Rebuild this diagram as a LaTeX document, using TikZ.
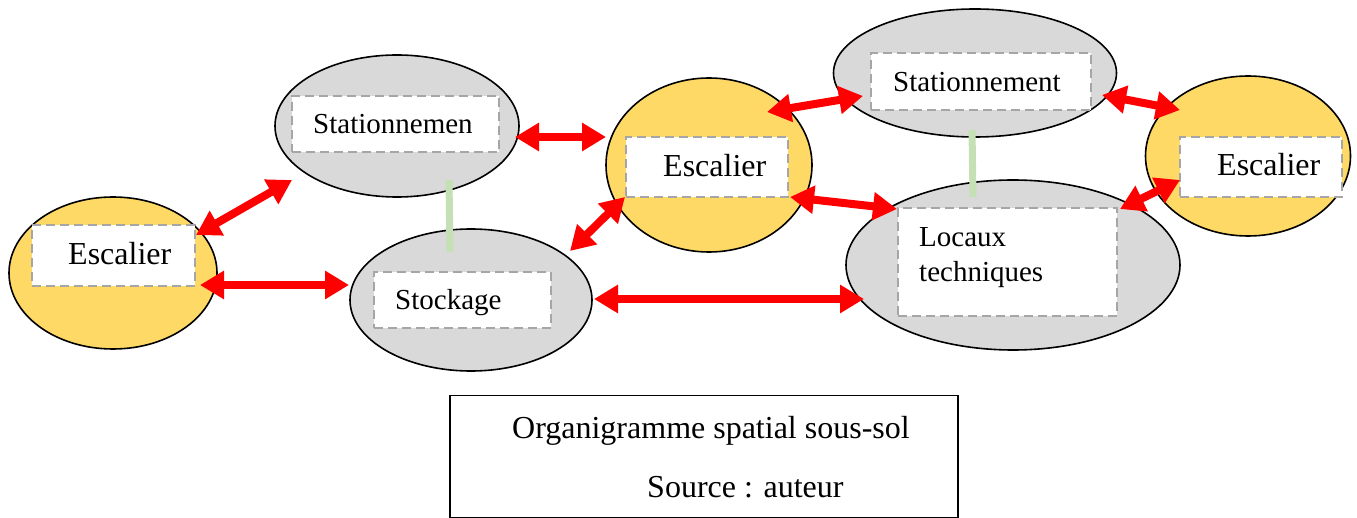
\documentclass[tikz,border=0pt]{standalone}
\usepackage{fontspec}
\setmainfont{Liberation Serif}
\newfontfamily\tnr{Liberation Serif}
\usetikzlibrary{shapes.geometric,arrows.meta}
\definecolor{ygold}{HTML}{FFD966}
\definecolor{lgray}{HTML}{D9D9D9}
\definecolor{dgray}{HTML}{A6A6A6}
\definecolor{lgreen}{HTML}{C5E0B4}
\tikzset{
  ell/.style={draw=black, line width=1.6pt, ellipse, inner sep=0pt},
  yell/.style={ell, fill=ygold},
  gell/.style={ell, fill=lgray},
  dbox/.style={draw=dgray, fill=white, line width=2.4pt, dash pattern=on 9pt off 5pt, rectangle, inner sep=0pt},
  lbl/.style={font=\tnr\fontsize{29}{35}\selectfont, inner sep=0pt, anchor=base west},
  blbl/.style={font=\tnr\fontsize{32}{38}\selectfont, inner sep=0pt, anchor=base west},
  biarrow/.style={draw=red, line width=8pt, {Triangle[length=24pt,width=27pt]}-{Triangle[length=24pt,width=27pt]}},
  greenlink/.style={draw=lgreen, line width=7pt},
}
\begin{document}
\begin{tikzpicture}[x=1pt, y=-1pt]
\useasboundingbox (0,0) rectangle (1357,518);
% ellipses
\node[yell, minimum width=208pt, minimum height=152pt] (esc1) at (113,273) {};
\node[gell, minimum width=244pt, minimum height=142pt] (st1) at (397,126) {};
\node[gell, minimum width=242pt, minimum height=142pt] (stk) at (471,300) {};
\node[yell, minimum width=206pt, minimum height=174pt] (esc2) at (709,165) {};
\node[gell, minimum width=283pt, minimum height=128pt] (st2) at (975,73) {};
\node[gell, minimum width=334pt, minimum height=170pt] (loc) at (1013,265) {};
\node[yell, minimum width=205pt, minimum height=160pt] (esc3) at (1248,156) {};
% green links
\coordinate (g1a) at (449,180);
\coordinate (g1b) at (450,252);
\draw[greenlink] (g1a) -- (g1b);
\coordinate (g2a) at (972,130);
\coordinate (g2b) at (973,197);
\draw[greenlink] (g2a) -- (g2b);
% dashed boxes
\node[dbox, minimum width=163pt, minimum height=61pt] (b1) at (113.5,255.5) {};
\node[dbox, minimum width=207pt, minimum height=56pt] (b2) at (395.5,124) {};
\node[dbox, minimum width=177pt, minimum height=56pt] (b3) at (462.5,300) {};
\node[dbox, minimum width=162pt, minimum height=60pt] (b4) at (707,167) {};
\node[dbox, minimum width=220pt, minimum height=57pt] (b5) at (981,81.5) {};
\node[dbox, minimum width=219pt, minimum height=108pt] (b6) at (1007.5,262) {};
\node[dbox, minimum width=162pt, minimum height=60pt] (b7) at (1261,167) {};
% labels
\node[blbl] (t1) at (68,265) {Escalier};
\node[lbl] (t2) at (313,134) {Stationnemen};
\node[lbl] (t3) at (395,310) {Stockage};
\node[blbl] (t4) at (663,177) {Escalier};
\node[lbl] (t5) at (893,92) {Stationnement};
\node[lbl] (t6) at (919,247) {Locaux};
\node[lbl] (t7) at (919,282) {techniques};
\node[blbl] (t8) at (1217,176) {Escalier};
% arrow end points
\coordinate (a1s) at (196,235);
\coordinate (a1e) at (292,180);
\coordinate (a2s) at (200,285);
\coordinate (a2e) at (349,285);
\coordinate (a3s) at (515,137);
\coordinate (a3e) at (606,137);
\coordinate (a4s) at (570,251);
\coordinate (a4e) at (625,197);
\coordinate (a5s) at (594,299);
\coordinate (a5e) at (864,299);
\coordinate (a6s) at (767,112);
\coordinate (a6e) at (863,96);
\coordinate (a7s) at (790,197);
\coordinate (a7e) at (897,209);
\coordinate (a8s) at (1102,95);
\coordinate (a8e) at (1180,110);
\coordinate (a9s) at (1120,209);
\coordinate (a9e) at (1180,180);
\draw[biarrow] (a1s) -- (a1e);
\draw[biarrow] (a2s) -- (a2e);
\draw[biarrow] (a3s) -- (a3e);
\draw[biarrow] (a4s) -- (a4e);
\draw[biarrow] (a5s) -- (a5e);
\draw[biarrow] (a6s) -- (a6e);
\draw[biarrow] (a7s) -- (a7e);
\draw[biarrow] (a8s) -- (a8e);
\draw[biarrow] (a9s) -- (a9e);
% caption
\node[draw=black, line width=1.6pt, minimum width=508pt, minimum height=122pt, inner sep=0pt] (cap) at (704,456.5) {};
\node[blbl] (c1) at (512,438) {Organigramme spatial sous-sol};
\node[blbl] (c2) at (647,497) {Source : auteur};
\end{tikzpicture}
\end{document}
